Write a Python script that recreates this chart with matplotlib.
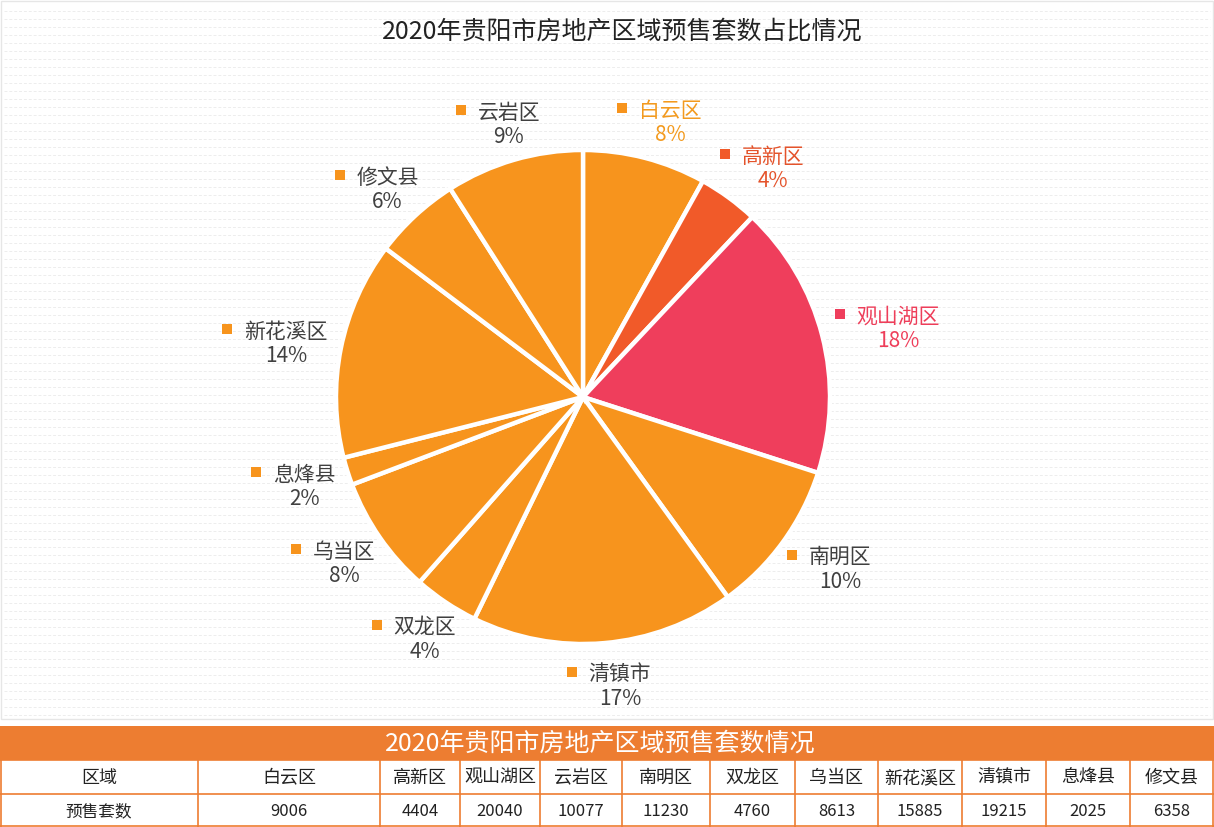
import numpy as np
import matplotlib
matplotlib.use('Agg')
import matplotlib.pyplot as plt
from matplotlib.patches import Rectangle

plt.rcParams['font.family'] = ['Noto Sans CJK SC', 'DejaVu Sans']

# 数据 (表格顺序)
districts = ['白云区', '高新区', '观山湖区', '云岩区', '南明区', '双龙区', '乌当区',
             '新花溪区', '清镇市', '息烽县', '修文县']
counts = [9006, 4404, 20040, 10077, 11230, 4760, 8613, 15885, 19215, 2025, 6358]

# 饼图顺序 (按拼音)
pie_order = ['白云区', '高新区', '观山湖区', '南明区', '清镇市', '双龙区', '乌当区',
             '息烽县', '新花溪区', '修文县', '云岩区']

title = '2020年贵阳市房地产区域预售套数占比情况'
table_title = '2020年贵阳市房地产区域预售套数情况'
row_labels = ['区域', '预售套数']

orange = '#F7941D'
special_colors = {'高新区': '#F15A29', '观山湖区': '#EF3E5C'}
label_colors = {'白云区': '#F39A1E', '高新区': '#E4532B', '观山湖区': '#EE3E5A'}
text_gray = '#404040'
band = '#ED7D31'

W, H = 1214, 828
fig = plt.figure(figsize=(W / 100, H / 100), dpi=100)
ax = fig.add_axes([0, 0, 1, 1])

# 背景虚线
for y in np.arange(H - 12, 108, -8):
    ax.plot([4, W - 4], [y, y], color='#ededed', lw=0.7, ls=(0, (3, 2)), zorder=0)
ax.add_patch(Rectangle((1, 108), W - 2, H - 110, fill=False, ec='#e6e6e6', lw=1, zorder=0))

vals = [counts[districts.index(n)] for n in pie_order]
cols = [special_colors.get(n, orange) for n in pie_order]
cx0, cy0, R = 583, 430, 247
wedges, _ = ax.pie(vals, colors=cols, startangle=90, counterclock=False,
                   center=(cx0, cy0), radius=R,
                   wedgeprops=dict(edgecolor='white', linewidth=3.2))

total = sum(vals)
for w, n, v, c in zip(wedges, pie_order, vals, cols):
    ang = np.deg2rad((w.theta1 + w.theta2) / 2)
    name_w = 20.7 * len(n)
    block_w = name_w + 22
    hw, hh = block_w / 2, 25
    bx = cx0 + (R + 15) * np.cos(ang) + hw * np.cos(ang)
    by = cy0 + (R + 15) * np.sin(ang) + hh * np.sin(ang) - 3
    left = bx - block_w / 2
    tc = label_colors.get(n, text_gray)
    ax.add_patch(Rectangle((left, by + 9), 10, 10, color=c, lw=0))
    nx = left + 22 + name_w / 2
    ax.text(nx, by + 12.5, n, ha='center', va='center', fontsize=15, color=tc)
    ax.text(nx, by - 12, f'{round(v / total * 100):.0f}%', ha='center', va='center',
            fontsize=15, color=tc)

ax.text(622, H - 32, title, ha='center', va='center', fontsize=18, color='#222222')

# 表格
col_w = [198, 182, 80, 80, 82, 88, 85, 83, 84, 84, 84, 84]
edges = np.concatenate([[0], np.cumsum(col_w)])
edges[-1] = W
band_top, band_bot = H - 727, H - 761
row1, row2 = H - 795, H - 828
ax.add_patch(Rectangle((0, band_bot), W, band_top - band_bot, color=band, lw=0))
ax.text(600, (band_top + band_bot) / 2, table_title, ha='center', va='center',
        fontsize=18, color='white')
ax.add_patch(Rectangle((0, row2), W, band_bot - row2, color='white', lw=0))
for y in [band_bot, row1, row2 + 1]:
    ax.plot([0, W], [y, y], color=band, lw=1.2)
for x in edges:
    xx = min(max(x, 1), W - 1)
    ax.plot([xx, xx], [row2, band_bot], color=band, lw=1.2)

header = [row_labels[0]] + districts
values = [row_labels[1]] + [str(c) for c in counts]
for i in range(len(header)):
    xm = (edges[i] + edges[i + 1]) / 2
    ax.text(xm, (band_bot + row1) / 2, header[i], ha='center', va='center',
            fontsize=13, color='#222222')
    ax.text(xm, (row1 + row2) / 2, values[i], ha='center', va='center',
            fontsize=12, color='#222222')

ax.set_xlim(0, W)
ax.set_ylim(0, H)
ax.set_aspect('auto')
ax.axis('off')
fig.savefig('out.png', dpi=100, facecolor='white')
